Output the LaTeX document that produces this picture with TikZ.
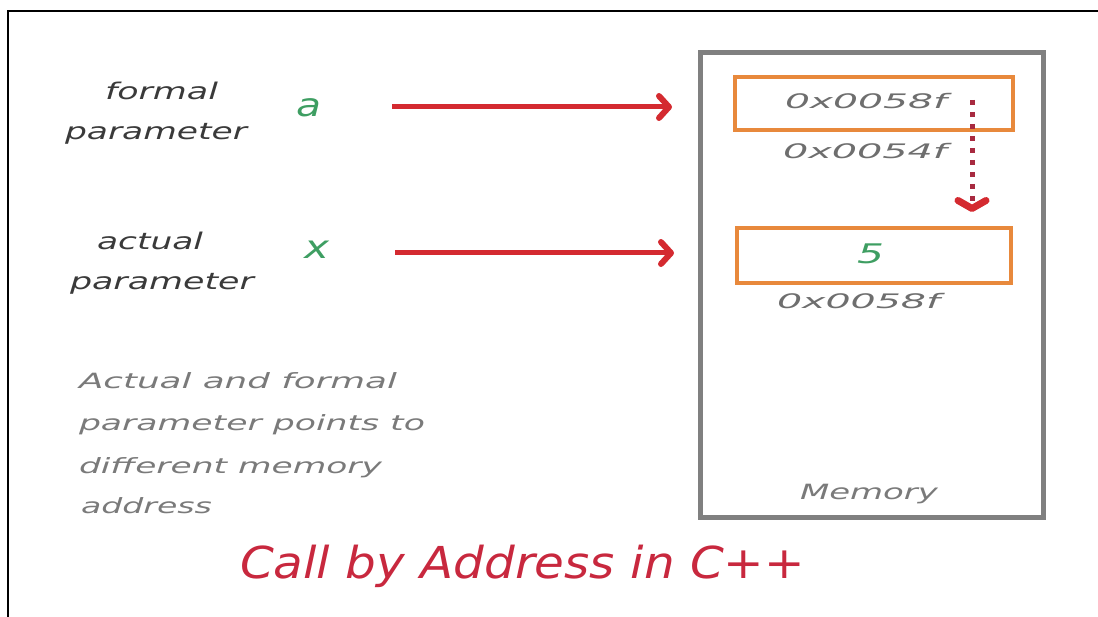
\documentclass[tikz,border=0pt]{standalone}
\usepackage{fontspec}
\setmainfont{DejaVu Sans}
\usepackage{graphicx}
\usetikzlibrary{arrows.meta}

\definecolor{inkgray}{HTML}{3A3A3A}
\definecolor{notegray}{HTML}{7A7A7A}
\definecolor{addrgray}{HTML}{6E6E6E}
\definecolor{valgreen}{HTML}{3E9E62}
\definecolor{arrred}{HTML}{D42A30}
\definecolor{dotred}{HTML}{A82A40}
\definecolor{titlered}{HTML}{C8283E}
\definecolor{cellorange}{HTML}{E8893C}
\definecolor{memgray}{HTML}{808080}

% stretch a piece of text to a given width, keeping its height
\newcommand\fitw[2]{\resizebox{#1}{\height}{#2}}

\begin{document}
\begin{tikzpicture}[x=1pt,y=-1pt,
  txt/.style={inner sep=0pt, outer sep=0pt, anchor=base west},
  lbl/.style={txt, text=inkgray, font=\fontsize{23}{28}\selectfont\itshape},
  note/.style={txt, text=notegray, font=\fontsize{21}{26}\selectfont\itshape},
  addr/.style={txt, text=addrgray, font=\fontsize{20}{24}\selectfont\itshape},
  var/.style={txt, text=valgreen, font=\fontsize{32}{36}\selectfont\itshape},
  cell/.style={draw=cellorange, line width=4pt, inner sep=0pt, fill=white},
  memory/.style={draw=memgray, line width=5pt, inner sep=0pt},
  ptr/.style={draw=arrred, line width=5pt,
    -{Straight Barb[length=10pt,width=22pt,line width=6pt,round]}},
  link/.style={draw=dotred, line width=5pt, dash pattern=on 5pt off 7pt,
    -{Straight Barb[length=8pt,width=28pt,line width=7pt,round,color=arrred]}}
]
\useasboundingbox (0,0) rectangle (1098,617);

% page frame (top and left edges)
\draw[line width=1.2pt] (8,617) -- (8,11) -- (1098,11);

% memory block with its two cells
\node[memory, minimum width=343pt, minimum height=464pt] (mem) at (871.5,285) {};
\node[cell, minimum width=278pt, minimum height=53pt] (cellA) at (874,103.5) {};
\node[cell, minimum width=274pt, minimum height=55pt] (cellX) at (874,255.5) {};

\node[addr] (addrA) at (785,109) {\fitw{162pt}{0x0058f}};
\node[addr] (locA)  at (783,159) {\fitw{164pt}{0x0054f}};
\node[txt, text=valgreen, font=\fontsize{27}{30}\selectfont\itshape] (val) at (857,264) {\fitw{27pt}{5}};
\node[addr] (locX)  at (777,309) {\fitw{163pt}{0x0058f}};
\node[txt, text=notegray, font=\fontsize{21}{26}\selectfont\itshape] (memlbl) at (800,500) {\fitw{138pt}{Memory}};

% parameter labels
\node[lbl] (formal1) at (105,100) {\fitw{113pt}{formal}};
\node[lbl] (formal2) at (65,140)  {\fitw{182pt}{parameter}};
\node[var] (a) at (296,117) {\fitw{25pt}{a}};

\node[lbl] (actual1) at (97,250) {\fitw{106pt}{actual}};
\node[lbl] (actual2) at (70,290) {\fitw{184pt}{parameter}};
\node[var] (x) at (304,259) {\fitw{25pt}{x}};

% arrows into memory
\coordinate (pa1) at (392,107);
\coordinate (pa2) at (672,107);
\coordinate (px1) at (395,253);
\coordinate (px2) at (674,253);
\draw[ptr] (pa1) -- (pa2);
\draw[ptr] (px1) -- (px2);

% the formal parameter refers to the actual one
\coordinate (d1) at (972,100);
\coordinate (d2) at (972,212);
\draw[link] (d1) -- (d2);

% note
\node[note] (n1) at (79,389) {\fitw{318pt}{Actual and formal}};
\node[note] (n2) at (79,431) {\fitw{346pt}{parameter points to}};
\node[note] (n3) at (79,474) {\fitw{303pt}{different memory}};
\node[note] (n4) at (81,513) {\fitw{131pt}{address}};

% title
\node[txt, text=titlered, font=\fontsize{44}{50}\selectfont\itshape] (title) at (240,578) {\fitw{565pt}{Call by Address in C++}};
\end{tikzpicture}
\end{document}
